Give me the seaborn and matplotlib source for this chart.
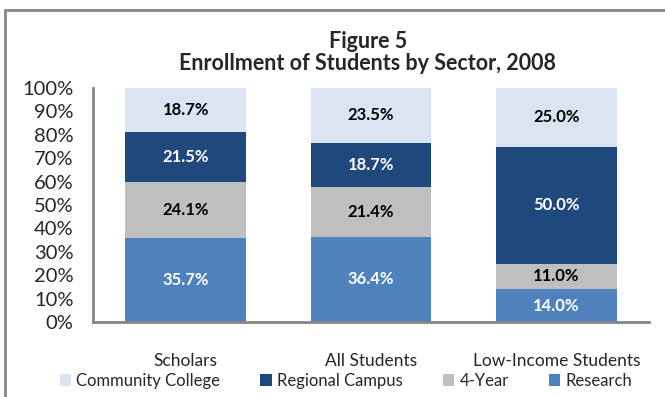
import matplotlib
matplotlib.use("Agg")
import matplotlib.pyplot as plt
import seaborn as sns
import pandas as pd
import numpy as np
from matplotlib.patches import Rectangle, Patch

categories = ["Scholars", "All Students", "Low-Income Students"]
research = [35.7, 36.4, 14.0]
four_year = [24.1, 21.4, 11.0]
regional = [21.5, 18.7, 50.0]
community = [18.7, 23.5, 25.0]
series_names = ["Research", "4-Year", "Regional Campus", "Community College"]
colors = {"Research": "#4F81BD", "4-Year": "#BFBFBF",
          "Regional Campus": "#1F497D", "Community College": "#DBE5F1"}
label_colors = {"Research": "white", "4-Year": "black",
                "Regional Campus": "white", "Community College": "black"}

sns.set_theme(style="white")
plt.rcParams['font.family'] = ['Lato', 'DejaVu Sans']

series = {"Research": research, "4-Year": four_year,
          "Regional Campus": regional, "Community College": community}
df = pd.DataFrame({"category": categories, **series})
cum = df[series_names].cumsum(axis=1)

fig = plt.figure(figsize=(6.65, 3.97), dpi=100)
ax = fig.add_axes([93/665, 1-322/397, (649-93)/665, (322-88)/397])

# draw from top layer down so each cumulative bar overlaps the one beneath
for name in reversed(series_names):
    sns.barplot(x=df["category"], y=cum[name], color=colors[name],
                width=0.65, saturation=1, ax=ax, order=categories,
                linewidth=0, edgecolor="none")

# data labels
for i in range(len(categories)):
    bottom = 0
    for name in series_names:
        v = df[name][i]
        ax.text(i, bottom + v/2, f"{v:.1f}%", ha="center", va="center",
                fontsize=12, fontweight="bold", color=label_colors[name])
        bottom += v

ax.set_xlim(-0.5, 2.5)
ax.set_ylim(0, 100)
ax.set_yticks(np.arange(0, 101, 10))
ax.set_yticklabels([f"{t}%" for t in range(0, 101, 10)], fontsize=14.5)
ax.set_xticks(range(3))
ax.set_xticklabels(categories, fontsize=12.5)
ax.set_xticks([-0.5, 0.5, 1.5, 2.5], minor=True)
ax.tick_params(axis="x", which="major", length=0, pad=22)
ax.tick_params(axis="x", which="minor", length=5, width=2, color="#868686", direction="out")
ax.tick_params(axis="y", which="major", length=5, width=1.5, color="#868686", direction="out", pad=9)
ax.set_xlabel("")
ax.set_ylabel("")
for s in ["top", "right"]:
    ax.spines[s].set_visible(False)
for s in ["left", "bottom"]:
    ax.spines[s].set_color("#868686")
    ax.spines[s].set_linewidth(2)

fig.text(0.553, 1-41/397, "Figure 5", ha="center", va="center",
         fontsize=15.5, fontweight="bold")
fig.text(0.553, 1-63/397, "Enrollment of Students by Sector, 2008", ha="center",
         va="center", fontsize=15.5, fontweight="bold")

handles = [Patch(facecolor=colors[n], edgecolor="none", label=n)
           for n in ["Community College", "Regional Campus", "4-Year", "Research"]]
fig.legend(handles=handles, loc="center", bbox_to_anchor=(0.52, 1-381/397),
           ncol=4, frameon=False, fontsize=12, handlelength=0.7,
           handleheight=0.7, handletextpad=0.3, columnspacing=2.4)

fig.patches.append(Rectangle((5/665, -0.1), 1.2, 1-10/397+0.1, transform=fig.transFigure,
                             fill=False, edgecolor="#868686", linewidth=2))

fig.savefig("out.png", dpi=100)
